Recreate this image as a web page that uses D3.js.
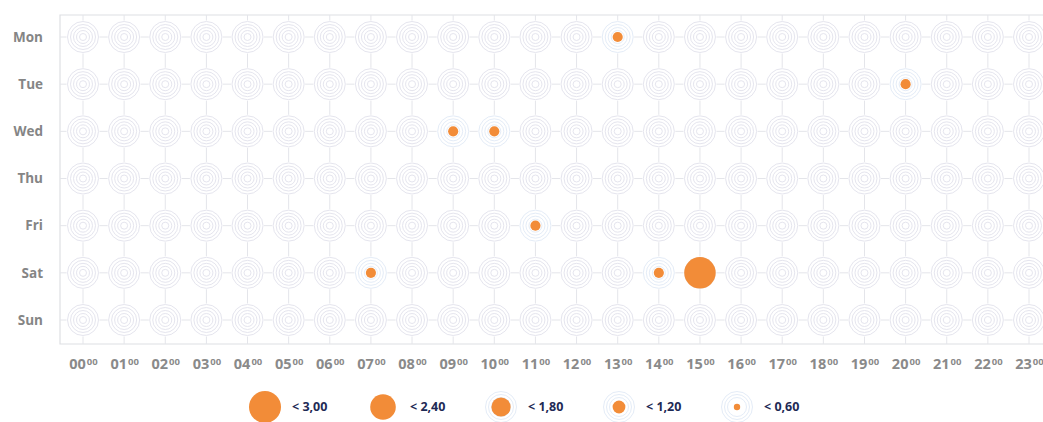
<!DOCTYPE html>
<html>
<head>
<meta charset="utf-8">
<script src="https://cdn.jsdelivr.net/npm/d3@7"></script>
<style>
  html, body { margin: 0; padding: 0; background: #fff; }
  svg { display: block; font-family: "Open Sans", "Noto Sans", sans-serif; }
</style>
</head>
<body>
<svg id="chart" width="1043" height="422"></svg>
<script>
// Days of the week (rows) and hours of the day (columns)
const days = ["Mon", "Tue", "Wed", "Thu", "Fri", "Sat", "Sun"];
const hours = ["00","01","02","03","04","05","06","07","08","09","10","11",
               "12","13","14","15","16","17","18","19","20","21","22","23"];

// Recorded values per day/hour slot
const pointDays  = ["Mon", "Tue", "Wed", "Wed", "Fri", "Sat", "Sat", "Sat"];
const pointHours = ["13",  "20",  "09",  "10",  "11",  "07",  "14",  "15"];
const pointVals  = [0.95,  0.95,  0.95,  0.95,  0.95,  0.95,  0.95,  2.95];

// Legend thresholds
const legendVals   = [3.00, 2.40, 1.80, 1.20, 0.60];
const legendLabels = ["< 3,00", "< 2,40", "< 1,80", "< 1,20", "< 0,60"];

const svg = d3.select("#chart");

const plot = { left: 60, top: 15, bottom: 344, right: 1050 };

const x = d3.scalePoint().domain(hours).range([83, 1029]);
const y = d3.scalePoint().domain(days).range([37, 320]);
const r = d3.scaleLinear().domain([0, 3]).range([0, 16]);

const ringRadii = [3.5, 6.5, 9.5, 12.5, 15.5];
const hasPoint = new Set(pointDays.map((d, i) => d + "|" + pointHours[i]));

// Plot frame
svg.append("path")
  .attr("d", `M${plot.right},${plot.top}H${plot.left}V${plot.bottom}H${plot.right}`)
  .attr("fill", "none")
  .attr("stroke", "#dedfe3")
  .attr("stroke-width", 1.2);

// Grid lines through each cell centre
const grid = svg.append("g").attr("stroke", "#e4e5ea").attr("stroke-width", 1);
hours.forEach(h => grid.append("line")
  .attr("x1", x(h)).attr("x2", x(h))
  .attr("y1", plot.top).attr("y2", plot.bottom));
days.forEach(d => grid.append("line")
  .attr("x1", plot.left).attr("x2", plot.right)
  .attr("y1", y(d)).attr("y2", y(d)));

// Concentric target rings for each cell
function drawRings(g, cx, cy, active) {
  g.append("circle").attr("cx", cx).attr("cy", cy).attr("r", 16.5).attr("fill", "#fff");
  ringRadii.forEach(rr => {
    g.append("circle")
      .attr("cx", cx).attr("cy", cy).attr("r", rr)
      .attr("fill", "none")
      .attr("stroke", active ? "#e4ecf7" : "#e5e5ee")
      .attr("stroke-width", 1);
  });
}

const cells = svg.append("g");
days.forEach(d => hours.forEach(h => {
  drawRings(cells, x(h), y(d), hasPoint.has(d + "|" + h));
}));

// Value dots
svg.append("g").selectAll("circle")
  .data(pointVals.map((v, i) => ({ day: pointDays[i], hour: pointHours[i], value: v })))
  .join("circle")
  .attr("cx", d => x(d.hour))
  .attr("cy", d => y(d.day))
  .attr("r", d => r(d.value))
  .attr("fill", "#f28c38");

// Day axis
const yAxis = svg.append("g")
  .attr("transform", `translate(${plot.left},0)`)
  .call(d3.axisLeft(y).tickSize(0).tickPadding(17));
yAxis.select(".domain").remove();
yAxis.selectAll("text")
  .attr("fill", "#858585")
  .attr("font-size", 13.5)
  .attr("font-weight", 700)
  .attr("font-family", "'Open Sans', sans-serif");

// Hour axis with superscript minutes
const xAxis = svg.append("g")
  .attr("transform", `translate(0,${plot.bottom})`)
  .call(d3.axisBottom(x).tickSize(0).tickPadding(15).tickFormat(() => ""));
xAxis.select(".domain").remove();
xAxis.selectAll("text")
  .attr("fill", "#8a8a8a")
  .attr("font-size", 14.5)
  .attr("font-weight", 700)
  .attr("font-family", "'Open Sans', sans-serif")
  .each(function(h) {
    const t = d3.select(this);
    t.append("tspan").text(h);
    t.append("tspan").attr("font-size", 9.5).attr("dx", 1).attr("dy", "-0.45em").text("00");
  });

// Size legend
const legend = svg.append("g").attr("transform", "translate(0,407)");
legendVals.forEach((v, i) => {
  const cx = 265 + i * 118;
  const item = legend.append("g");
  if (i >= 2) {
    ringRadii.slice(2).forEach(rr => item.append("circle")
      .attr("cx", cx).attr("cy", 0).attr("r", rr)
      .attr("fill", "none").attr("stroke", "#e4ecf7"));
  }
  item.append("circle")
    .attr("cx", cx).attr("cy", 0).attr("r", r(v))
    .attr("fill", "#f28c38");
  item.append("text")
    .attr("x", cx + 27).attr("y", 0).attr("dy", "0.35em")
    .attr("fill", "#1e2a55")
    .attr("font-size", 12.5)
    .attr("font-weight", 700)
    .text(legendLabels[i]);
});
</script>
</body>
</html>
